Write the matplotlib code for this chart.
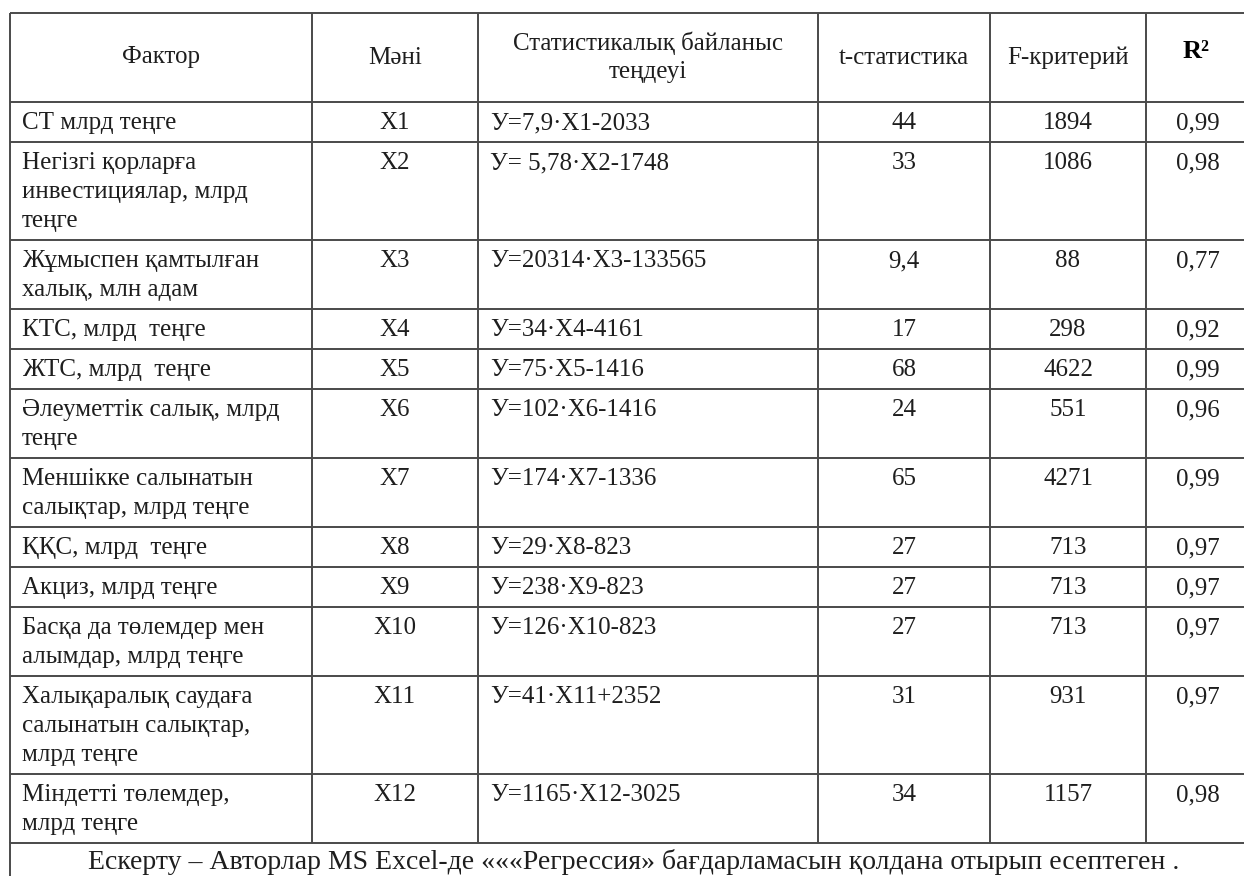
import matplotlib
matplotlib.use("Agg")
import matplotlib.pyplot as plt

# --- данные таблицы ---
headers = ["Фактор", "Мәні", "Статистикалық байланыс\nтеңдеуі",
           "t-статистика", "F-критерий", "R²"]

factors = [
    "СТ млрд теңге",
    "Негізгі қорларға\nинвестициялар, млрд\nтеңге",
    "Жұмыспен қамтылған\nхалық, млн адам",
    "КТС, млрд  теңге",
    "ЖТС, млрд  теңге",
    "Әлеуметтік салық, млрд\nтеңге",
    "Меншікке салынатын\nсалықтар, млрд теңге",
    "ҚҚС, млрд  теңге",
    "Акциз, млрд теңге",
    "Басқа да төлемдер мен\nалымдар, млрд теңге",
    "Халықаралық саудаға\nсалынатын салықтар,\nмлрд теңге",
    "Міндетті төлемдер,\nмлрд теңге",
]
symbols = ["X1", "X2", "X3", "X4", "X5", "X6", "X7", "X8", "X9", "X10", "X11", "X12"]
equations = [
    "У=7,9·X1-2033", "У= 5,78·X2-1748", "У=20314·X3-133565", "У=34·X4-4161",
    "У=75·X5-1416", "У=102·X6-1416", "У=174·X7-1336", "У=29·X8-823",
    "У=238·X9-823", "У=126·X10-823", "У=41·X11+2352", "У=1165·X12-3025",
]
t_stats = ["44", "33", "9,4", "17", "68", "24", "65", "27", "27", "27", "31", "34"]
f_values = ["1894", "1086", "88", "298", "4622", "551", "4271", "713", "713", "713", "931", "1157"]
r2 = ["0,99", "0,98", "0,77", "0,92", "0,99", "0,96", "0,99", "0,97", "0,97", "0,97", "0,97", "0,98"]

note = "Ескерту – Авторлар MS Excel-де «««Регрессия» бағдарламасын қолдана отырып есептеген ."

# --- геометрия (пиксели) ---
W, H = 1244, 876
col_x = [10, 312, 478, 818, 990, 1146, 1250]
top, head_bot = 13, 102
line_h = 29
first_off = 21
pad = 12
FS = 18
LC = "#4a4a4a"
TC = "#1e1e1e"
FONT = ["Liberation Serif", "DejaVu Serif"]

fig = plt.figure(figsize=(W / 100, H / 100), dpi=100)
ax = fig.add_axes([0, 0, 1, 1])
ax.set_xlim(0, W)
ax.set_ylim(H, 0)
ax.axis("off")

# высоты строк по числу строк текста
row_tops = [head_bot]
for f in factors:
    n = f.count("\n") + 1
    row_tops.append(row_tops[-1] + 40 + line_h * (n - 1))
table_bot = row_tops[-1]

# линии
for y in [top] + row_tops:
    ax.plot([col_x[0], W], [y, y], color=LC, lw=1.4, solid_capstyle="butt")
for x in col_x[:-1]:
    ax.plot([x, x], [top, table_bot], color=LC, lw=1.4, solid_capstyle="butt")
ax.plot([col_x[0], col_x[0]], [table_bot, H], color=LC, lw=1.4)

# заголовок
hc = (top + head_bot) / 2
for j, h in enumerate(headers):
    cx = (col_x[j] + col_x[j + 1]) / 2 if j < 5 else 1196
    lines = h.split("\n")
    y0 = hc - line_h * (len(lines) - 1) / 2
    for k, ln in enumerate(lines):
        if j == 5:
            ax.text(cx, y0 - 6, ln, ha="center", va="center", fontsize=FS + 1,
                    fontweight="bold", color="black", family=FONT)
        else:
            ax.text(cx, y0 + k * line_h, ln, ha="center", va="center",
                    fontsize=FS, color=TC, family=FONT)

# строки
for i in range(len(factors)):
    y = row_tops[i] + first_off
    for k, ln in enumerate(factors[i].split("\n")):
        ax.text(col_x[0] + pad, y + k * line_h, ln, ha="left", va="center",
                fontsize=FS, color=TC, family=FONT)
    ax.text((col_x[1] + col_x[2]) / 2, y, symbols[i], ha="center", va="center",
            fontsize=FS, color=TC, family=FONT)
    ax.text(col_x[2] + pad, y, equations[i], ha="left", va="center",
            fontsize=FS, color=TC, family=FONT)
    ax.text((col_x[3] + col_x[4]) / 2, y, t_stats[i], ha="center", va="center",
            fontsize=FS, color=TC, family=FONT)
    ax.text((col_x[4] + col_x[5]) / 2, y, f_values[i], ha="center", va="center",
            fontsize=FS, color=TC, family=FONT)
    ax.text(1198, y, r2[i], ha="center", va="center",
            fontsize=FS, color=TC, family=FONT)

# примечание
ax.text(634, table_bot + 19, note, ha="center", va="center",
        fontsize=20, color=TC, family=FONT)

fig.savefig("out.png", dpi=100)
